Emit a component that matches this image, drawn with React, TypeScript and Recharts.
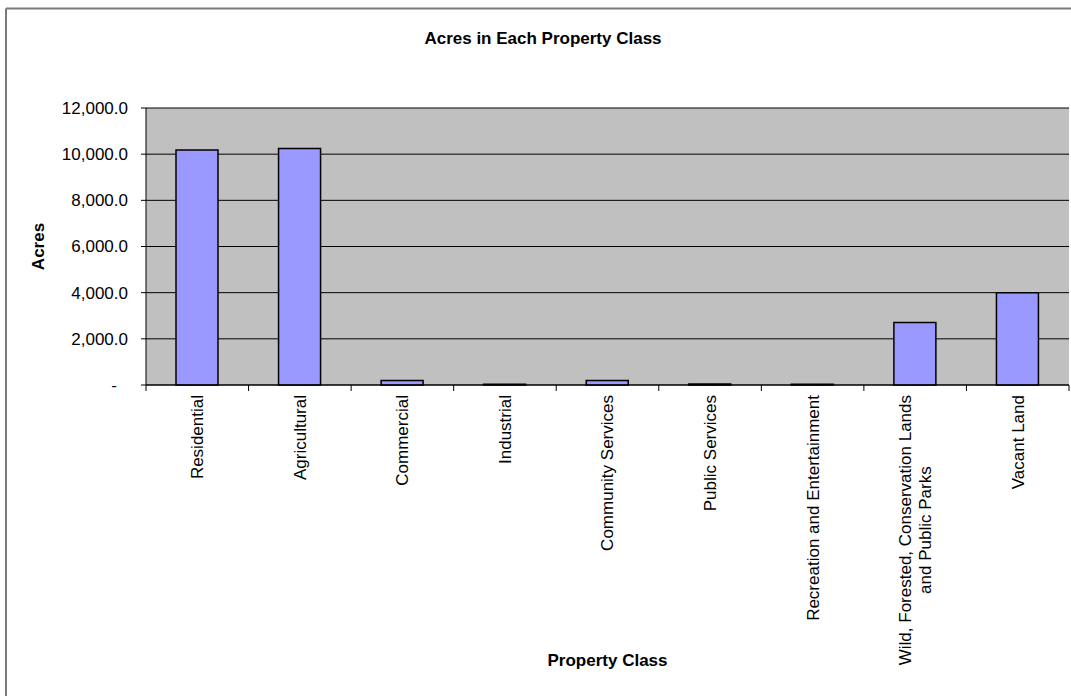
import React from 'react';
import { BarChart, Bar, XAxis, YAxis, CartesianGrid } from 'recharts';

const categories = [
  'Residential',
  'Agricultural',
  'Commercial',
  'Industrial',
  'Community Services',
  'Public Services',
  'Recreation and Entertainment',
  'Wild, Forested, Conservation Lands and Public Parks',
  'Vacant Land',
];

const tickLabelLines: string[][] = [
  ['Residential'],
  ['Agricultural'],
  ['Commercial'],
  ['Industrial'],
  ['Community Services'],
  ['Public Services'],
  ['Recreation and Entertainment'],
  ['Wild, Forested, Conservation Lands', 'and Public Parks'],
  ['Vacant Land'],
];

const acres = [10180, 10250, 190, 35, 200, 40, 30, 2710, 4000];

const yTicks = [0, 2000, 4000, 6000, 8000, 10000, 12000];

const data = categories.map((c, i) => ({ name: c, acres: acres[i] }));

const FONT = '"Liberation Sans", Arial, sans-serif';
const FS = 17;
const W = 1071;
const H = 696;
const PLOT_LEFT = 146;
const PLOT_RIGHT = 1069;
const PLOT_TOP = 108;
const PLOT_BOTTOM = 385;
const BAND = (PLOT_RIGHT - PLOT_LEFT) / categories.length;

function measure(text: string): number {
  try {
    const ctx = document.createElement('canvas').getContext('2d');
    if (ctx) {
      ctx.font = `${FS}px ${FONT}`;
      return ctx.measureText(text).width;
    }
  } catch (e) {}
  return text.length * FS * 0.5;
}

function XTick(props: any) {
  const { x, y, index } = props;
  const lines = tickLabelLines[index] || [String(props.payload?.value ?? '')];
  const top = PLOT_BOTTOM;
  const marks = [
    <line key="l" x1={x - BAND / 2} x2={x - BAND / 2} y1={top} y2={top + 6} stroke="#000" strokeWidth={1} />,
  ];
  if (index === categories.length - 1) {
    marks.push(
      <line key="r" x1={x + BAND / 2} x2={x + BAND / 2} y1={top} y2={top + 6} stroke="#000" strokeWidth={1} />
    );
  }
  let texts;
  if (lines.length === 1) {
    texts = (
      <text
        x={0}
        y={0}
        dy="0.35em"
        textAnchor="end"
        transform={`translate(${x},${y}) rotate(-90)`}
        fontFamily={FONT}
        fontSize={FS}
        fill="#000"
      >
        {lines[0]}
      </text>
    );
  } else {
    const w = measure(lines[0]);
    const n = lines.length;
    const spacing = 20;
    texts = (
      <g transform={`translate(${x},${y}) rotate(-90)`}>
        {lines.map((ln, i) => (
          <text
            key={i}
            x={-w / 2}
            y={(i - (n - 1) / 2) * spacing}
            dy="0.35em"
            textAnchor="middle"
            fontFamily={FONT}
            fontSize={FS}
            fill="#000"
          >
            {ln}
          </text>
        ))}
      </g>
    );
  }
  return (
    <g>
      {marks}
      {texts}
    </g>
  );
}

function YTick(props: any) {
  const { x, y, payload } = props;
  const v = payload.value as number;
  const label =
    v === 0
      ? '-'
      : v.toLocaleString('en-US', { minimumFractionDigits: 1, maximumFractionDigits: 1 });
  return (
    <text
      x={v === 0 ? x - 11 : x}
      y={y}
      dy="0.35em"
      textAnchor="end"
      fontFamily={FONT}
      fontSize={FS}
      fill="#000"
    >
      {label}
    </text>
  );
}

export default function App() {
  return (
    <div style={{ position: 'absolute', left: 0, top: 0, width: W, height: H, background: '#fff', overflow: 'hidden' }}>
      <BarChart
        width={W}
        height={H}
        data={data}
        margin={{ top: PLOT_TOP, right: W - PLOT_RIGHT, bottom: 0, left: 0 }}
        barSize={42}
      >
        <CartesianGrid vertical={false} horizontal stroke="#000" strokeWidth={1} fill="#C0C0C0" strokeOpacity={1} />
        <XAxis
          dataKey="name"
          height={H - PLOT_BOTTOM}
          interval={0}
          tickLine={false}
          tickSize={6}
          tickMargin={4}
          axisLine={{ stroke: '#000', strokeWidth: 1 }}
          tick={<XTick />}
        />
        <YAxis
          width={PLOT_LEFT}
          domain={[0, 12000]}
          ticks={yTicks}
          interval={0}
          tickSize={5}
          tickMargin={13}
          tickLine={{ stroke: '#000', strokeWidth: 1 }}
          axisLine={{ stroke: '#000', strokeWidth: 1 }}
          tick={<YTick />}
        />
        <Bar dataKey="acres" fill="#9999FF" stroke="#000" strokeWidth={1.5} isAnimationActive={false} />
      </BarChart>
      <svg
        width={W}
        height={H}
        style={{ position: 'absolute', left: 0, top: 0, pointerEvents: 'none' }}
      >
        <line x1={6} y1={8.5} x2={W} y2={8.5} stroke="#7a7a7a" strokeWidth={2} />
        <line x1={6} y1={8.5} x2={6} y2={H} stroke="#7a7a7a" strokeWidth={2} />
        <text x={543} y={44} textAnchor="middle" fontFamily={FONT} fontSize={FS} fontWeight="bold" fill="#000">
          Acres in Each Property Class
        </text>
        <text
          x={0}
          y={0}
          dy="0.35em"
          textAnchor="middle"
          transform={`translate(38.5, ${(PLOT_TOP + PLOT_BOTTOM) / 2}) rotate(-90)`}
          fontFamily={FONT}
          fontSize={FS}
          fontWeight="bold"
          fill="#000"
        >
          Acres
        </text>
        <text
          x={(PLOT_LEFT + PLOT_RIGHT) / 2}
          y={666}
          textAnchor="middle"
          fontFamily={FONT}
          fontSize={FS}
          fontWeight="bold"
          fill="#000"
        >
          Property Class
        </text>
      </svg>
    </div>
  );
}
